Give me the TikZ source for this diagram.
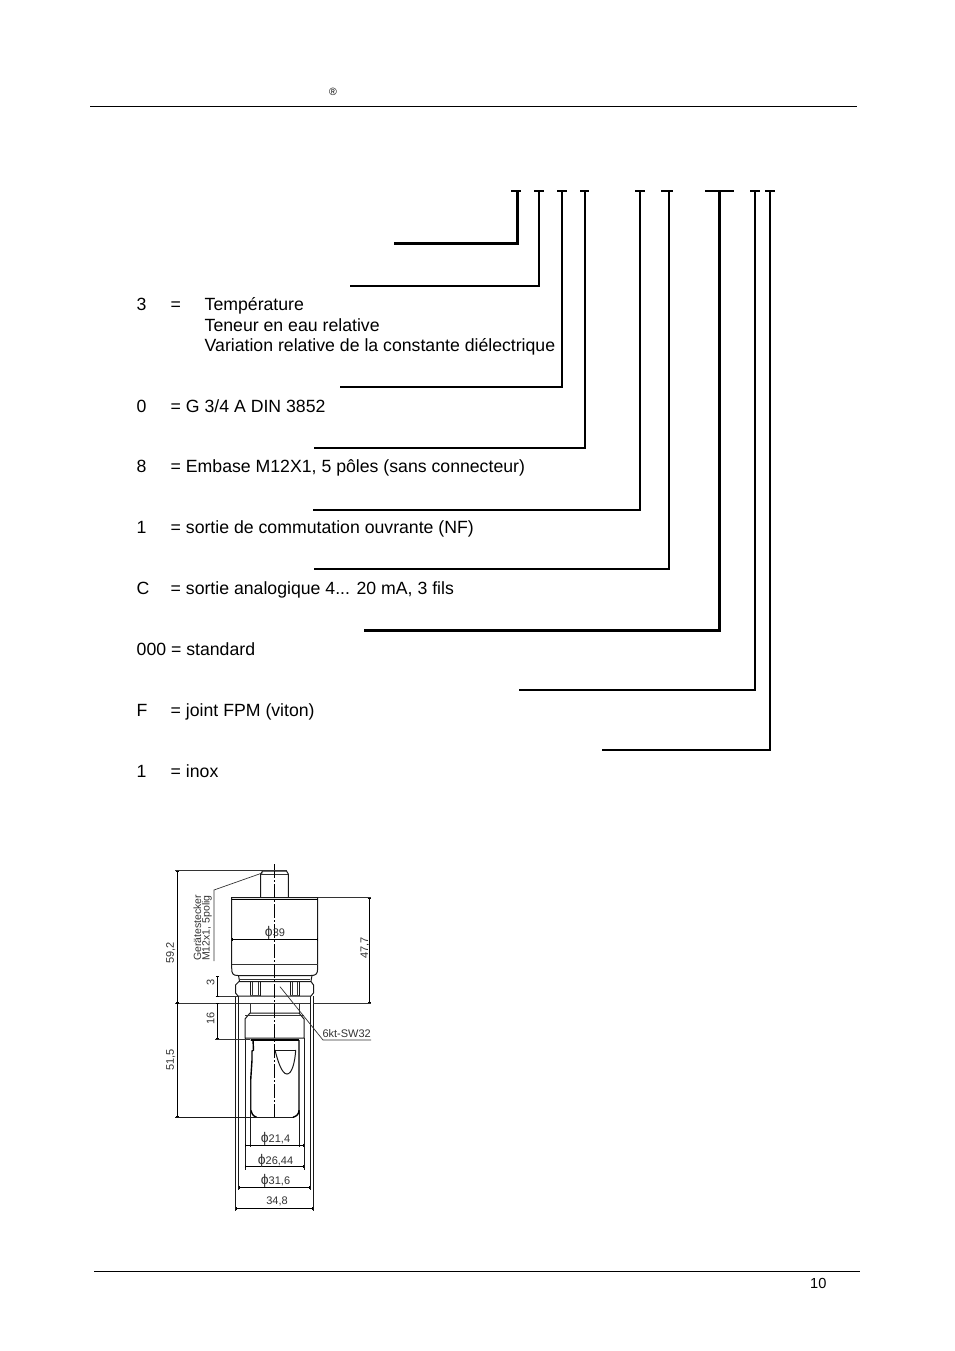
\documentclass[tikz,border=0pt]{standalone}
\usepackage{fontspec}
\setmainfont{Liberation Sans}
\usetikzlibrary{arrows.meta}
\newcommand{\diasign}{{\fontsize{14}{11}\selectfont ϕ}}
\tikzset{
  x=1pt,y=-1pt,
  body/.style={anchor=base west,inner sep=0pt,font=\fontsize{17.68}{20}\selectfont},
  dim/.style={inner sep=0pt,text=black!80,font=\fontsize{11}{11}\selectfont},
  code/.style={line width=#1,line cap=butt,line join=miter},
  code/.default=2pt,
  rule/.style={line width=1pt},
  dr/.style={line width=1pt,black!90},
  thin dr/.style={line width=0.7pt,black!80},
  heavy dr/.style={line width=1.4pt,black},
  center dr/.style={line width=0.7pt,black,dash pattern=on 14pt off 2pt on 2pt off 2pt},
  tick/.style={line width=0.9pt,black,{Bar[width=3pt,length=0.8pt]}-{Bar[width=3pt,length=0.8pt]}}
}
\begin{document}
\begin{tikzpicture}
\useasboundingbox (0,0) rectangle (954,1351);
\fill[white] (0,0) rectangle (954,1351);
% page rules
\coordinate (hl) at (90,106.5); \coordinate (hr) at (857,106.5);
\coordinate (fl) at (94,1271); \coordinate (fr) at (860,1271);
\draw[rule] (hl) -- (hr);
\draw[rule] (fl) -- (fr);
\node[inner sep=0pt,font=\fontsize{10.5}{10.5}\selectfont] (reg) at (333,92) {®};
\node[body,font=\fontsize{14.6}{18}\selectfont] (page) at (810,1288.5) {10};
% code brackets
\foreach \n/\x/\a/\b/\yy/\l/\w in {
  a/517.5/511/521/243/394/3,
  b/539/534/544/286/350/2,
  c/562/557/567/387/340/2,
  d/585/580/589/448/314/2,
  e/640/635/645/510/313/2,
  f/669/661/673/569/314/2,
  g/719.5/705/734/630/364/3,
  h/755/750/760/690/519/2.7,
  i/770/765/775/750/602/2.2}{
  \coordinate (\n tl) at (\a,191.5);
  \coordinate (\n tr) at (\b,191.5);
  \coordinate (\n top) at (\x,191.5);
  \coordinate (\n end) at (\l,\yy);
  \draw[line width=2pt] (\n tl) -- (\n tr);
  \draw[code=\w pt] (\n top) |- (\n end);
}
% texts
\node[body] (t1a) at (136.5,310) {3};
\node[body] (t1b) at (170.5,310) {=};
\node[body] (t1c) at (204.5,310) {Température};
\node[body] (t1d) at (204.5,331) {Teneur en eau relative};
\node[body] (t1e) at (204.5,351) {Variation relative de la constante diélectrique};
\node[body] (t2a) at (136.5,412) {0};
\node[body] (t2b) at (170.5,412) {= G 3/4 A DIN 3852};
\node[body] (t3a) at (136.5,472) {8};
\node[body] (t3b) at (170.5,472) {= Embase M12X1, 5 pôles (sans connecteur)};
\node[body] (t4a) at (136.5,533) {1};
\node[body] (t4b) at (170.5,533) {= sortie de commutation ouvrante (NF)};
\node[body] (t5a) at (136.5,594) {C};
\node[body] (t5b) at (170.5,594) {= sortie analogique 4... 20 mA, 3 fils};
\node[body] (t6) at (136.5,655) {000 = standard};
\node[body] (t7a) at (136.5,716) {F};
\node[body] (t7b) at (170.5,716) {= joint FPM (viton)};
\node[body] (t8a) at (136.5,777) {1};
\node[body] (t8b) at (170.5,777) {= inox};
% --- technical drawing ---
% connector
\draw[dr] (260.7,897.5) -- (260.7,874) -- (262.5,871) -- (286.5,871) -- (288.3,874) -- (288.3,897.5);
\draw[thin dr] (260.7,874) -- (288.3,874);
% housing
\draw[dr] (231.7,897.7) -- (317.7,897.7) -- (317.7,968)
  .. controls (317.7,974) and (316,975.5) .. (311,975.5) -- (238,975.5)
  .. controls (233,975.5) and (231.7,974) .. (231.7,968) -- cycle;
\draw[line width=1.6pt] (231.7,899.5) -- (317.7,899.5);
\draw[thin dr] (231.7,964) -- (317.7,964);
% collar
\draw[dr] (238.5,975.5) -- (239.5,981) (312,975.5) -- (311,981);
\draw[thin dr] (240,979) -- (310,979);
% hex
\draw[dr] (239,981.5) -- (311,981.5) -- (313.5,985) -- (313.5,993) -- (311,996) -- (238,996) -- (235.5,993) -- (235.5,985) -- cycle;
\draw[dr] (250,982) -- (250,996) (260,982) -- (260,996) (290,982) -- (290,996) (299,982) -- (299,996);
\draw[thin dr] (252,982) -- (252,995) (258,982) -- (258,995) (292,982) -- (292,995) (297,982) -- (297,995);
\draw[line width=1.2pt,black!70] (250,995.5) -- (260,995.5) (290,995.5) -- (299,995.5);
% sleeve + extension lines
\draw[dr] (235.7,996) -- (235.7,1211) (313.3,996) -- (313.3,1211);
\draw[dr] (238.5,996) -- (238.5,1190) (310.3,996) -- (310.3,1190);
\draw[thin dr] (238.5,1003.3) -- (310.3,1003.3);
% stem
\draw[dr] (245,1038) -- (245,1019) -- (250,1013) -- (299,1013) -- (304,1019) -- (304,1038) -- cycle;
\draw[thin dr] (250,1003.5) -- (250,1013) (299,1003.5) -- (299,1013);
\draw[thin dr] (245,1015) -- (304,1015);
\draw[dr] (245,1038) -- (245,1169.5) (304,1038) -- (304,1169.5);
% sensor
\draw[heavy dr] (250.7,1040) -- (299,1040);
\draw[heavy dr] (250.7,1040) -- (253,1040) -- (253.5,1050) -- (252,1051) -- (252,1060) -- (250.7,1080) -- (250.7,1110) .. controls (251,1113) and (253,1116) .. (256.7,1117.3);
\draw[heavy dr] (299,1040) -- (299,1110) .. controls (299,1114) and (297,1116) .. (293,1117.3);
\draw[dr] (250.7,1080) -- (250.7,1147) (299,1110) -- (299,1147);
\draw[dr] (275,1050) -- (295.7,1050);
\draw[dr] (275,1050) .. controls (278,1062) and (282,1074) .. (287,1074) .. controls (292,1074) and (295,1062) .. (295.7,1050);
% centre line
\coordinate (cl1) at (274.3,864); \coordinate (cl2) at (274.3,1119);
\draw[center dr] (cl1) -- (cl2);
% overall dimensions
\draw[thin dr] (175,870.7) -- (287,870.7);
\draw[tick] (177.3,870.7) -- (177.3,1003.3);
\draw[thin dr] (175,1003.3) -- (238,1003.3);
\draw[tick] (177.3,1003.3) -- (177.3,1117.3);
\draw[dr] (175,1117.3) -- (293,1117.3);
\node[dim,rotate=90] (d592) at (170.7,953) {59,2};
\node[dim,rotate=90] (d515) at (170.7,1060) {51,5};
\draw[thin dr] (317.7,897.7) -- (371,897.7);
\draw[thin dr] (313.3,1003.3) -- (371,1003.3);
\draw[tick] (369,897.7) -- (369,1003.3);
\node[dim,rotate=90] (d477) at (365,948) {47,7};
% dia 39
\draw[tick] (232,939) -- (317.5,939);
\node[dim] (d39) at (275,932.5) {\diasign39};
% 3 and 16
\draw[thin dr] (215.5,996.7) -- (238,996.7);
\draw[tick] (217.7,976) -- (217.7,996.7);
\draw[tick] (217.7,1003.3) -- (217.7,1039);
\draw[thin dr] (215,1039) -- (250,1039);
\node[dim,rotate=90] (d3) at (210.7,982.7) {3};
\node[dim,rotate=90] (d16) at (210.7,1018) {16};
% connector leader
\coordinate (ll1) at (263,872.7); \coordinate (ll2) at (214,890); \coordinate (ll3) at (214,961);
\draw[thin dr] (ll1) -- (ll2) -- (ll3);
\node[dim,rotate=90,anchor=south west,font=\fontsize{10.5}{10.5}\selectfont,inner sep=0pt] (gs1) at (201.5,961) {Gerätestecker};
\node[dim,rotate=90,anchor=south west,font=\fontsize{10.5}{10.5}\selectfont,inner sep=0pt] (gs2) at (212,961) {M12x1, 5polig};
% SW32 leader
\coordinate (sw1) at (280,986.7); \coordinate (sw2) at (323,1040); \coordinate (sw3) at (371,1040);
\draw[thin dr] (sw1) -- (sw2) -- (sw3);
\node[dim] (dsw) at (346.7,1033.5) {6kt-SW32};
% diameters
\draw[tick] (245,1145) -- (304,1145);
\node[dim] (d214) at (275.5,1138.5) {\diasign21,4};
\draw[tick] (245,1166.7) -- (304,1166.7);
\node[dim] (d2644) at (275.5,1160.5) {\diasign26,44};
\draw[tick] (238.5,1187.5) -- (310.3,1187.5);
\node[dim] (d316) at (275.5,1181) {\diasign31,6};
\draw[tick] (235.7,1208.5) -- (313.3,1208.5);
\node[dim] (d348) at (277,1201.5) {34,8};
\end{tikzpicture}
\end{document}
